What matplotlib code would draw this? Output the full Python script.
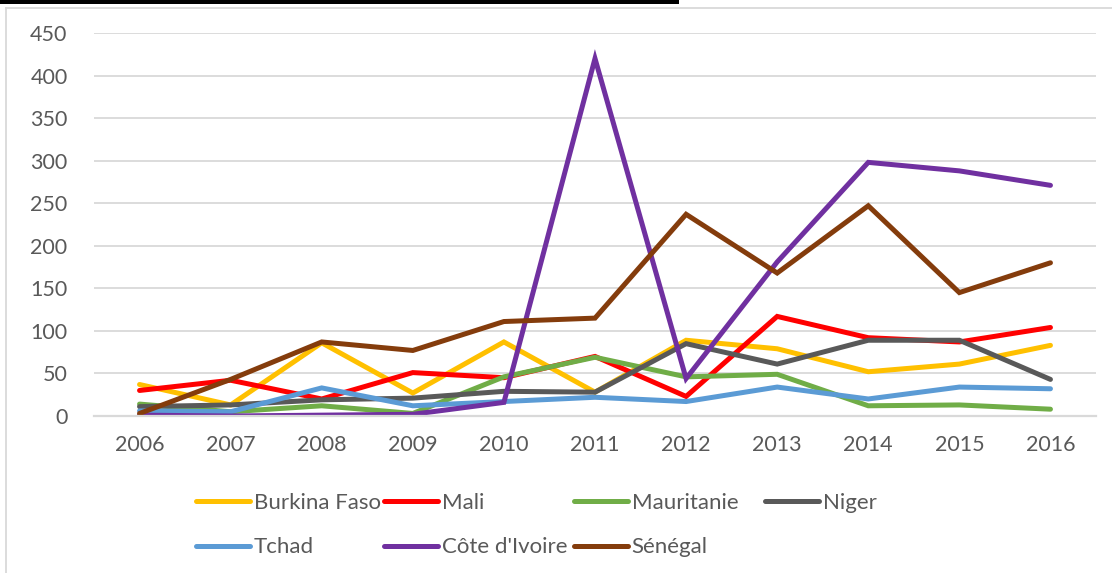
import numpy as np
import matplotlib.pyplot as plt
from matplotlib.lines import Line2D
from matplotlib.patches import Rectangle

plt.rcParams['font.family'] = ['Lato', 'DejaVu Sans']

years = ['2006', '2007', '2008', '2009', '2010', '2011', '2012', '2013', '2014', '2015', '2016']

burkina = [37, 13, 86, 27, 87, 28, 89, 79, 52, 61, 83]
mali = [30, 42, 20, 51, 45, 70, 23, 117, 92, 87, 104]
mauritanie = [14, 5, 12, 3, 46, 69, 46, 49, 12, 13, 8]
niger = [11, 13, 19, 21, 29, 28, 85, 61, 89, 89, 43]
tchad = [6, 5, 33, 12, 17, 22, 17, 34, 20, 34, 32]
cote_ivoire = [1, 0, 1, 2, 16, 420, 44, 181, 298, 288, 271]
senegal = [3, 43, 87, 77, 111, 115, 237, 168, 247, 145, 180]

names = ['Burkina Faso', 'Mali', 'Mauritanie', 'Niger', 'Tchad', "Côte d'Ivoire", 'Sénégal']
series = [burkina, mali, mauritanie, niger, tchad, cote_ivoire, senegal]
colors = ['#FFC000', '#FF0000', '#70AD47', '#595959', '#5B9BD5', '#7030A0', '#843C0C']

txt = '#595959'
grid = '#d9d9d9'

fig = plt.figure(figsize=(11.12, 5.73), dpi=100)
ax = fig.add_axes([94 / 1112, 1 - 416 / 573, 1002 / 1112, 383 / 573])

x = np.arange(len(years))
for vals, name, c in zip(series, names, colors):
    ax.plot(x, vals, color=c, linewidth=3.6, solid_capstyle='round',
            solid_joinstyle='miter', label=name)

ax.set_xlim(-0.5, len(years) - 0.5)
ax.set_ylim(0, 450)
ax.set_yticks(np.arange(0, 451, 50))
ax.set_xticks(x)
ax.set_xticklabels(years)
ax.grid(axis='y', color=grid, linewidth=1.3)
ax.set_axisbelow(True)
for s in ['top', 'right', 'left']:
    ax.spines[s].set_visible(False)
ax.spines['bottom'].set_color(grid)
ax.spines['bottom'].set_linewidth(1.6)
ax.tick_params(axis='both', length=0, labelsize=15.5, labelcolor=txt)
ax.tick_params(axis='y', pad=19)
ax.tick_params(axis='x', pad=14)

# legend: Excel lays it out in equal-width columns, so one legend per column
col_x = [196, 384, 574, 765]
for j, cx in enumerate(col_x):
    idx = [i for i in (j, j + 4) if i < len(names)]
    hs = [Line2D([], [], color=colors[i], linewidth=3.6, solid_capstyle='round') for i in idx]
    leg = fig.legend(hs, [names[i] for i in idx], ncol=1, frameon=False, fontsize=16,
                     labelcolor=txt, loc='upper left',
                     bbox_to_anchor=(cx / 1112, 1 - 493 / 573),
                     handlelength=2.45, handletextpad=0.15,
                     labelspacing=1.1, borderaxespad=0, borderpad=0)

# chart frame and black bar at the top
fig.add_artist(Line2D([6 / 1112, 6 / 1112], [0, 1 - 8 / 573], transform=fig.transFigure,
                      color=grid, linewidth=1.3))
fig.add_artist(Line2D([6 / 1112, 1], [1 - 8 / 573, 1 - 8 / 573], transform=fig.transFigure,
                      color=grid, linewidth=1.3))
fig.add_artist(Rectangle((0, 1 - 4 / 573), 679 / 1112, 4 / 573, transform=fig.transFigure,
                         color='black', linewidth=0))

fig.savefig('out.png', dpi=100)
